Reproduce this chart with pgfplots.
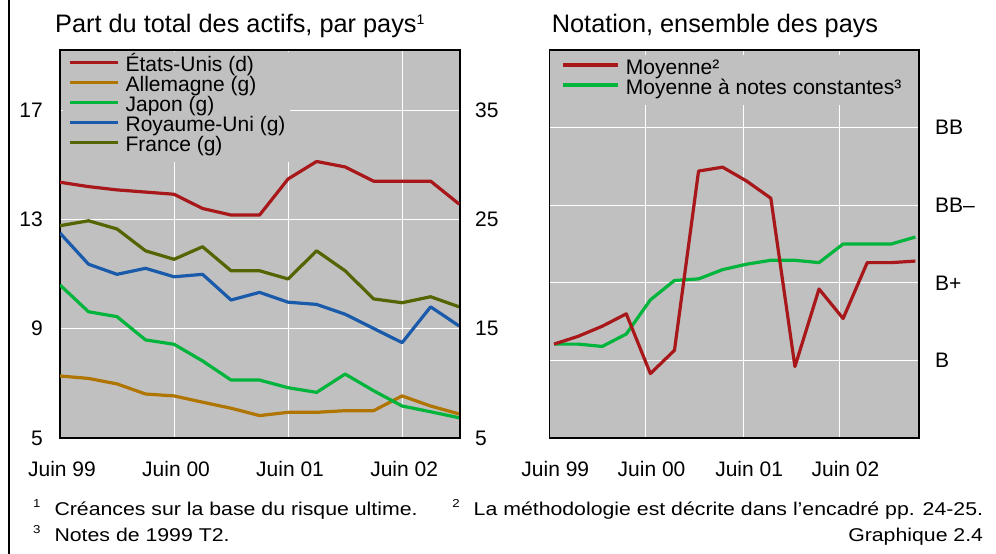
\documentclass[border=0pt]{standalone}
\usepackage{fontspec}
\setmainfont{Liberation Sans}
\newfontfamily\fnfont{Liberation Sans}[FakeStretch=1.15]
\usepackage{pgfplots}
\pgfplotsset{compat=1.18}

\definecolor{panel}{HTML}{C0C0C0}
\definecolor{usred}{HTML}{A8181A}
\definecolor{debrown}{HTML}{B07400}
\definecolor{jpgreen}{HTML}{00B43C}
\definecolor{ukblue}{HTML}{1A5AAA}
\definecolor{frolive}{HTML}{556400}

% part du total des actifs, quarters from June 1999
\pgfplotstableread{
q   us    de    jp     uk     fr
0   28.4  7.27  10.60  12.50  12.77
1   28.0  7.18  9.62   11.36  12.95
2   27.7  6.98  9.44   10.99  12.65
3   27.5  6.61  8.59   11.21  11.85
4   27.3  6.54  8.43   10.90  11.54
5   26.0  6.31  7.82   10.99  12.00
6   25.4  6.09  7.12   10.05  11.12
7   25.4  5.82  7.12   10.33  11.12
8   28.7  5.94  6.84   9.97   10.82
9   30.3  5.94  6.67   9.89   11.85
10  29.8  6.00  7.34   9.53   11.12
11  28.5  6.00  6.73   9.01   10.09
12  28.5  6.54  6.17   8.49   9.95
13  28.5  6.17  5.96   9.80   10.17
14  26.4  5.88  5.74   9.10   9.80
}\shares

% notation: B=0, B+=1, BB-=2, BB=3
\pgfplotstableread{
q   avg    const
0   0.21   0.21
1   0.31   0.21
2   0.44   0.18
3   0.60   0.34
4   -0.17  0.78
5   0.13   1.03
6   2.44   1.05
7   2.49   1.17
8   2.31   1.24
9   2.09   1.29
10  -0.08  1.29
11  0.92   1.26
12  0.54   1.50
13  1.26   1.50
14  1.26   1.50
15  1.28   1.59
}\ratings

\pgfplotsset{
  panel/.style={
    scale only axis, height=388pt,
    axis line style={line width=1.6pt},
    tick style={draw=none}, major tick length=0pt,
    ticklabel style={font=\fontsize{21}{21}\selectfont, inner sep=0pt},
    /pgf/number format/assume math mode=true,
  },
  grey/.style={axis background/.style={fill=panel},
    grid=major, major grid style={white, line width=0.9pt}},
  curve/.style={line width=3.2pt, line join=round},
  key/.style={legend cell align=left,
    legend style={at={(0,1)}, anchor=north west, draw=none, fill=panel,
      inner sep=5pt, font=\fontsize{21}{21}\selectfont,
      nodes={inner sep=0pt, text height=14.5pt, text depth=5.5pt},
      /tikz/every odd column/.append style={column sep=6.5pt}}},
}

\begin{document}
\begin{tikzpicture}
\useasboundingbox (0,0) rectangle (996pt,554pt);

% left panel, left scale
\begin{axis}[panel, grey,
  at={(60pt,116pt)}, anchor=south west, width=400pt,
  xmin=0, xmax=14.03, ymin=5, ymax=19.2,
  xtick={0,4,8,12}, xticklabels={Juin 99,Juin 00,Juin 01,Juin 02},
  xticklabel style={anchor=north, yshift=-23pt, xshift=2pt},
  ytick={5,9,13,17},
  yticklabel style={anchor=east, xshift=-17pt},
]
\addplot[curve, debrown] table[x=q, y=de]{\shares};
\addplot[curve, jpgreen] table[x=q, y=jp]{\shares};
\addplot[curve, ukblue] table[x=q, y=uk]{\shares};
\addplot[curve, frolive] table[x=q, y=fr]{\shares};
\end{axis}

% left panel, right scale (United States) and legend
\begin{axis}[panel, key,
  at={(60pt,116pt)}, anchor=south west, width=400pt,
  xmin=0, xmax=14.03, ymin=5, ymax=40.5,
  axis x line=none, axis y line*=right,
  ytick={5,15,25,35},
  yticklabel style={anchor=west, xshift=15pt},
  legend style={xshift=2.7pt, yshift=-2.2pt},
  legend image code/.code={\draw[#1] (0pt,5pt) -- (48pt,5pt);},
]
\addplot[curve, usred] table[x=q, y=us]{\shares};
\addlegendentry{États-Unis (d)}
\addlegendimage{curve, debrown}\addlegendentry{Allemagne (g)}
\addlegendimage{curve, jpgreen}\addlegendentry{Japon (g)}
\addlegendimage{curve, ukblue}\addlegendentry{Royaume-Uni (g)}
\addlegendimage{curve, frolive}\addlegendentry{France (g)}
\end{axis}

% right panel
\begin{axis}[panel, grey, key,
  at={(549.3pt,116pt)}, anchor=south west, width=369.7pt,
  xmin=-0.195, xmax=15.15, ymin=-1, ymax=4,
  xtick={-0.195,3.8,7.85,11.85}, xticklabels={Juin 99,Juin 00,Juin 01,Juin 02},
  xticklabel style={anchor=north, yshift=-23pt, xshift=6pt},
  ytick={0,1,2,3}, yticklabels={B,B+,BB--,BB},
  yticklabel pos=right,
  yticklabel style={anchor=west, xshift=16pt},
  legend style={xshift=6.7pt, yshift=-4.8pt},
  legend image code/.code={\draw[#1] (0pt,5pt) -- (55pt,5pt);},
]
\addlegendimage{curve, usred}\addlegendentry{Moyenne²}
\addplot[curve, jpgreen] table[x=q, y=const]{\ratings};
\addlegendentry{Moyenne à notes constantes³}
\addplot[curve, usred, forget plot] table[x=q, y=avg]{\ratings};
\end{axis}

% titles
\node[anchor=base west, inner sep=0pt, font=\fontsize{25.3}{25}\selectfont]
  at (55pt,521pt) {Part du total des actifs, par pays\raisebox{8pt}{\fontsize{14}{14}\selectfont 1}};
\node[anchor=base west, inner sep=0pt, font=\fontsize{25.3}{25}\selectfont]
  at (551.7pt,521pt) {Notation, ensemble des pays};

% notes
\begin{scope}[every node/.style={inner sep=0pt, font=\fnfont\fontsize{18.5}{18.5}\selectfont}]
\node[anchor=base west] at (33pt,38pt)
  {\raisebox{8pt}{\fontsize{11.5}{11.5}\selectfont 1}\hspace{14pt}Créances sur la base du risque ultime.};
\node[anchor=base east] at (983.3pt,38pt)
  {\raisebox{8pt}{\fontsize{11.5}{11.5}\selectfont 2}\hspace{14pt}La méthodologie est décrite dans l’encadré pp. 24-25.};
\node[anchor=base west] at (33pt,12pt)
  {\raisebox{8pt}{\fontsize{11.5}{11.5}\selectfont 3}\hspace{14pt}Notes de 1999 T2.};
\node[anchor=base east] at (983.3pt,12pt) {Graphique 2.4};
\end{scope}

\draw[line width=2pt] (9pt,0pt) -- (9pt,554pt);
\end{tikzpicture}
\end{document}
